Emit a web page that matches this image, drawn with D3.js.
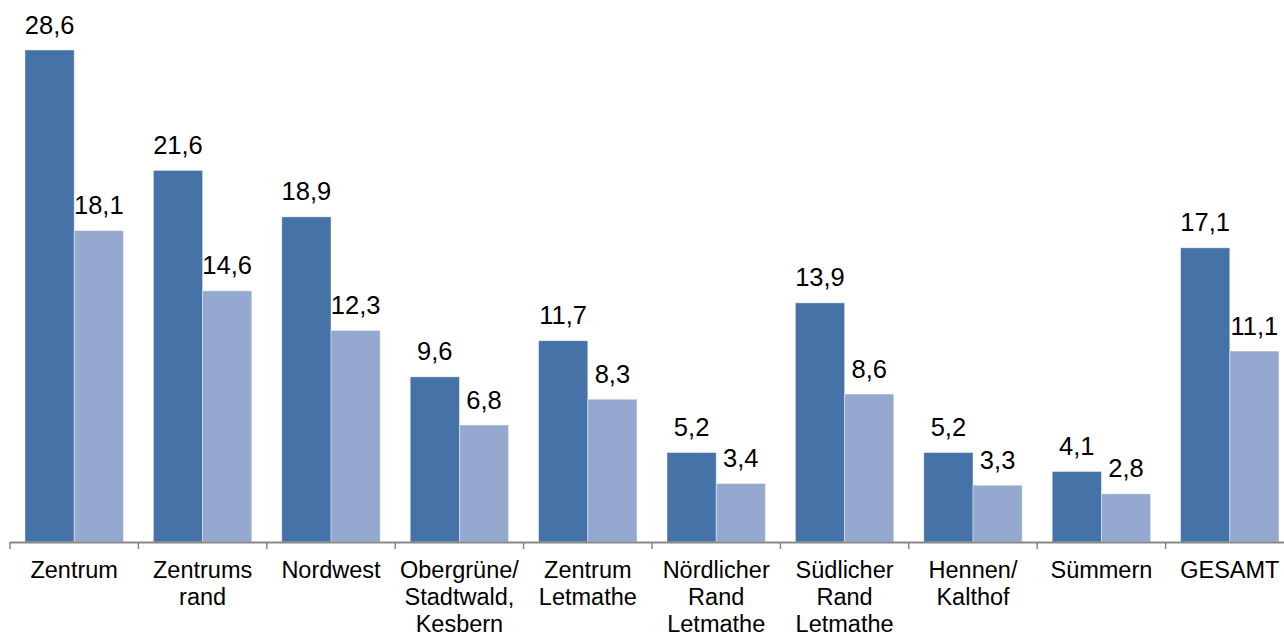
<!DOCTYPE html>
<html>
<head>
<meta charset="utf-8">
<script src="https://cdn.jsdelivr.net/npm/d3@7"></script>
<style>
  body { margin: 0; background: #fff; }
  svg { display: block; font-family: "Liberation Sans", Arial, sans-serif; }
</style>
</head>
<body>
<div id="chart"></div>
<script>
var categories = [
  "Zentrum", "Zentrums\nrand", "Nordwest", "Obergrüne/\nStadtwald,\nKesbern",
  "Zentrum\nLetmathe", "Nördlicher\nRand\nLetmathe", "Südlicher\nRand\nLetmathe",
  "Hennen/\nKalthof", "Sümmern", "GESAMT"
];
var seriesA = [28.6, 21.6, 18.9, 9.6, 11.7, 5.2, 13.9, 5.2, 4.1, 17.1];
var seriesB = [18.1, 14.6, 12.3, 6.8, 8.3, 3.4, 8.6, 3.3, 2.8, 11.1];
var seriesNames = ["a", "b"];
var colors = ["#4673a7", "#95a9d0"];

var width = 1284, height = 636,
    left = 10, base = 542, plotTop = 50, step = 128.4;

var svg = d3.select("#chart").append("svg")
  .attr("width", width)
  .attr("height", height);

var x0 = d3.scaleBand()
  .domain(categories)
  .range([left, left + step * categories.length]);

var x1 = d3.scaleBand()
  .domain(seriesNames)
  .range([15, step - 15]);

var y = d3.scaleLinear()
  .domain([0, 28.6])
  .range([base, plotTop]);

var data = categories.map(function (c, i) {
  return { cat: c, values: [seriesA[i], seriesB[i]] };
});

function fmt (v) { return v.toFixed(1).replace(".", ","); }

var groups = svg.selectAll("g.grp")
  .data(data)
.enter().append("g")
  .attr("class", "grp")
  .attr("transform", function (d) { return "translate(" + x0(d.cat) + ",0)"; });

groups.selectAll("rect")
  .data(function (d) { return d.values; })
.enter().append("rect")
  .attr("x", function (d, i) { return x1(seriesNames[i]); })
  .attr("y", function (d) { return y(d); })
  .attr("width", x1.bandwidth())
  .attr("height", function (d) { return base - y(d); })
  .attr("fill", function (d, i) { return colors[i]; })
  .attr("stroke", "#ffffff")
  .attr("stroke-opacity", 0.5)
  .attr("stroke-width", 0.8);

groups.selectAll("text.val")
  .data(function (d) { return d.values; })
.enter().append("text")
  .attr("class", "val")
  .attr("x", function (d, i) { return x1(seriesNames[i]) + x1.bandwidth() / 2; })
  .attr("y", function (d) { return y(d) - 16.5; })
  .attr("text-anchor", "middle")
  .attr("font-size", "25.5px")
  .attr("fill", "#000")
  .text(fmt);

// axis
svg.append("line")
  .attr("x1", left).attr("x2", width)
  .attr("y1", base + 0.5).attr("y2", base + 0.5)
  .attr("stroke", "#888").attr("stroke-width", 2);

svg.selectAll("line.tick")
  .data(categories)
.enter().append("line")
  .attr("class", "tick")
  .attr("x1", function (d) { return x0(d); })
  .attr("x2", function (d) { return x0(d); })
  .attr("y1", base).attr("y2", base + 7)
  .attr("stroke", "#888").attr("stroke-width", 1.5);

var labels = svg.selectAll("text.cat")
  .data(categories)
.enter().append("text")
  .attr("class", "cat")
  .attr("text-anchor", "middle")
  .attr("font-size", "23.5px")
  .attr("fill", "#000")
  .attr("transform", function (d) { return "translate(" + (x0(d) + step / 2) + ",0)"; });

labels.selectAll("tspan")
  .data(function (d) { return d.split("\n"); })
.enter().append("tspan")
  .attr("x", 0)
  .attr("y", function (d, i) { return 578 + i * 27; })
  .text(function (d) { return d; });
</script>
</body>
</html>
